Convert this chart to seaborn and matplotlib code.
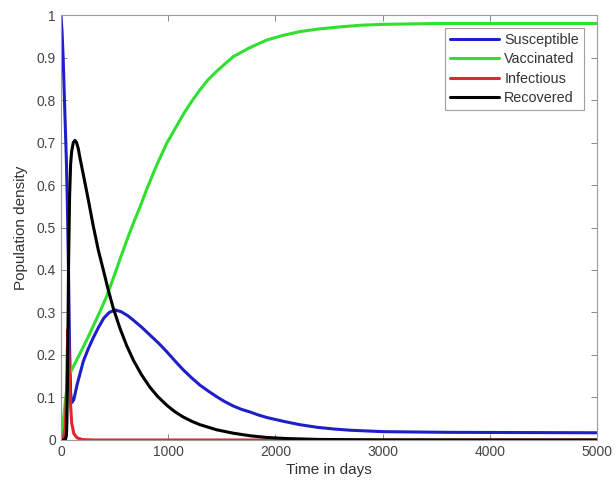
import numpy as np
import pandas as pd
import seaborn as sns
import matplotlib
matplotlib.use("Agg")
import matplotlib.pyplot as plt

# values (time in days -> population density)
t_sus = [0, 10, 20, 30, 40, 50, 60, 70, 80, 90, 100, 120, 150, 208, 255, 300, 350, 400,
         450, 504, 560, 620, 675, 750, 830, 910, 986, 1060, 1141, 1220, 1297, 1375, 1452,
         1530, 1607, 1685, 1763, 1840, 1919, 2074, 2230, 2385, 2540, 2696, 3006, 3629, 5000]
sus = [1.0, 0.96, 0.90, 0.82, 0.74, 0.66, 0.55, 0.40, 0.22, 0.11, 0.088, 0.095, 0.13,
       0.185, 0.215, 0.24, 0.265, 0.287, 0.30, 0.306, 0.302, 0.293, 0.282, 0.266, 0.247,
       0.228, 0.208, 0.187, 0.165, 0.146, 0.129, 0.115, 0.102, 0.09, 0.08, 0.072, 0.066,
       0.059, 0.053, 0.044, 0.036, 0.03, 0.026, 0.023, 0.0196, 0.018, 0.017]

t_vac = [0, 20, 40, 60, 80, 100, 150, 200, 255, 300, 360, 426, 490, 550, 610, 675, 740,
         800, 890, 986, 1070, 1150, 1220, 1297, 1370, 1450, 1530, 1607, 1760, 1919, 2070,
         2230, 2400, 2600, 2800, 3000, 3500, 4000, 5000]
vac = [0.0, 0.04, 0.09, 0.13, 0.155, 0.165, 0.19, 0.215, 0.243, 0.268, 0.3, 0.338, 0.382,
       0.425, 0.467, 0.51, 0.55, 0.59, 0.645, 0.698, 0.735, 0.77, 0.797, 0.824, 0.847, 0.867,
       0.885, 0.902, 0.923, 0.941, 0.952, 0.961, 0.967, 0.972, 0.976, 0.978, 0.98, 0.98, 0.98]

t_inf = [0, 20, 40, 50, 60, 65, 70, 80, 90, 100, 120, 150, 200, 300, 1000, 5000]
inf = [0.0, 0.003, 0.03, 0.10, 0.22, 0.26, 0.24, 0.15, 0.08, 0.04, 0.015, 0.005, 0.001,
       0.0, 0.0, 0.0]

t_rec = [0, 40, 50, 55, 60, 65, 70, 80, 90, 100, 115, 130, 145, 160, 180, 208, 255, 300,
         348, 400, 441, 488, 550, 613, 675, 750, 830, 900, 986, 1060, 1141, 1220, 1297,
         1452, 1607, 1763, 1919, 2100, 2400, 3000, 5000]
rec = [0.0, 0.0, 0.01, 0.04, 0.12, 0.25, 0.40, 0.57, 0.65, 0.68, 0.70, 0.705, 0.70, 0.687,
       0.66, 0.625, 0.565, 0.505, 0.447, 0.395, 0.353, 0.31, 0.263, 0.222, 0.188, 0.154,
       0.124, 0.103, 0.082, 0.067, 0.054, 0.044, 0.036, 0.024, 0.016, 0.010, 0.006, 0.0035,
       0.0013, 0.0002, 0.0]

names = ["Susceptible", "Vaccinated", "Infectious", "Recovered"]
colors = ["#1f1fc8", "#2fe02f", "#e3262b", "#000000"]

df = pd.concat([
    pd.DataFrame({"t": t_sus, "v": sus, "series": names[0]}),
    pd.DataFrame({"t": t_vac, "v": vac, "series": names[1]}),
    pd.DataFrame({"t": t_inf, "v": inf, "series": names[2]}),
    pd.DataFrame({"t": t_rec, "v": rec, "series": names[3]}),
], ignore_index=True)

sns.set_style("white")
plt.rcParams["font.family"] = ["Liberation Sans", "DejaVu Sans"]

fig = plt.figure(figsize=(6.16, 4.92), dpi=100)
ax = fig.add_axes([0.099, 0.1057, 0.870, 0.8638])

sns.lineplot(data=df, x="t", y="v", hue="series", hue_order=names,
             palette=dict(zip(names, colors)), estimator=None, sort=False,
             linewidth=2.2, ax=ax)

ax.set_xlim(0, 5000)
ax.set_ylim(0, 1)
ax.set_xticks([0, 1000, 2000, 3000, 4000, 5000])
ax.set_yticks(np.arange(0, 1.01, 0.1))
ax.set_yticklabels(["0", "0.1", "0.2", "0.3", "0.4", "0.5", "0.6", "0.7", "0.8", "0.9", "1"])
ax.tick_params(direction="in", length=4, width=0.7, colors="#888888",
               labelcolor="#444444", labelsize=10, top=True, right=True,
               bottom=True, left=True, labeltop=False, labelright=False)
for sp in ax.spines.values():
    sp.set_visible(True)
    sp.set_color("#9a9a9a")
    sp.set_linewidth(0.8)

ax.set_xlabel("Time in days", fontsize=11, color="#333333", labelpad=3)
ax.set_ylabel("Population density", fontsize=11, color="#333333", labelpad=6)

leg = ax.legend(loc="upper right", bbox_to_anchor=(0.976, 0.97), fontsize=10.4,
                frameon=True, fancybox=False, borderpad=0.35, labelspacing=0.38,
                handlelength=3.4, handletextpad=0.35, borderaxespad=0)
leg.get_frame().set_edgecolor("#888888")
leg.get_frame().set_linewidth(0.8)
for txt in leg.get_texts():
    txt.set_color("#333333")

fig.savefig("out.png", dpi=100)
